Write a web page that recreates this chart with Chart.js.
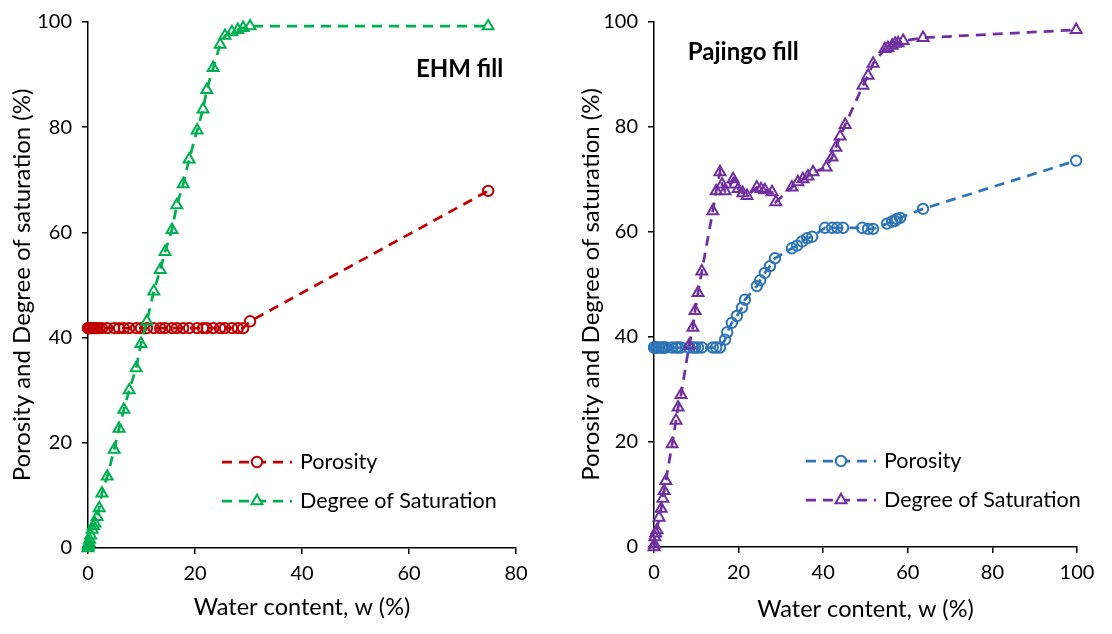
<!DOCTYPE html>
<html>
<head>
<meta charset="utf-8">
<title>Porosity and degree of saturation</title>
<script src="https://cdn.jsdelivr.net/npm/chart.js@4/dist/chart.umd.min.js"></script>
<style>
  html, body { margin: 0; padding: 0; background: #fff; }
  #wrap { position: relative; width: 1112px; height: 634px; }
  canvas { position: absolute; top: 0; }
</style>
</head>
<body>
<div id="wrap">
  <canvas id="graficaEhm" width="556" height="634" style="left:0"></canvas>
  <canvas id="graficaPajingo" width="556" height="634" style="left:556px"></canvas>
</div>
<script>
// EHM fill: contenido de agua, porosidad y grado de saturacion (%)
const ehmW = [0, 0.05, 0.1, 0.2, 0.3, 0.5, 0.8, 1.0, 1.3, 1.7, 2.1, 2.6, 3.6, 4.9, 5.8, 6.7, 7.7, 9.0, 9.9,
  11.0, 12.3, 13.5, 14.4, 15.7, 16.6, 17.8, 18.9, 20.4, 21.5, 22.2, 23.4, 24.7, 25.6, 26.9, 28.0, 29.0, 30.3, 74.8];
const ehmPorosity = [41.8, 41.8, 41.8, 41.8, 41.8, 41.8, 41.8, 41.8, 41.8, 41.8, 41.8, 41.8, 41.8, 41.8, 41.8,
  41.8, 41.8, 41.8, 41.8, 41.8, 41.8, 41.8, 41.8, 41.8, 41.8, 41.8, 41.8, 41.8, 41.8, 41.8, 41.8, 41.8, 41.8,
  41.8, 41.8, 41.8, 43.1, 67.9];
const ehmSaturation = [0, 0.3, 0.6, 1.0, 1.6, 2.4, 3.5, 4.2, 4.7, 5.9, 7.6, 10.4, 13.6, 18.7, 22.7, 26.3, 30.0,
  34.2, 38.8, 43.1, 48.8, 52.9, 56.3, 60.5, 65.2, 69.2, 73.9, 79.4, 83.4, 87.1, 91.3, 95.7, 97.4, 98.1, 98.5,
  98.9, 99.2, 99.2];

// Pajingo fill
const pajSatW = [0, 0.1, 0.2, 0.4, 0.7, 1.2, 1.7, 2.1, 2.4, 2.8, 4.3, 5.2, 5.7, 6.4, 8.3, 9.2, 9.7, 10.4, 11.3,
  13.9, 14.7, 15.6, 16.1, 16.8, 18.7, 19.1, 19.9, 21.0, 22.0, 24.3, 25.3, 26.2, 27.9, 28.8, 32.6, 34.0, 35.2,
  36.4, 37.6, 40.7, 42.1, 43.0, 44.0, 45.2, 49.4, 50.6, 51.8, 54.6, 55.3, 56.3, 57.0, 57.7, 58.9, 63.6, 99.8];
const pajSaturation = [0, 0.5, 1.9, 2.6, 3.2, 5.6, 7.3, 9.2, 10.7, 12.6, 19.6, 24.1, 26.6, 29.0, 38.4, 41.8,
  45.0, 48.4, 52.5, 64.0, 67.8, 71.4, 69.1, 67.8, 70.1, 69.1, 68.2, 67.4, 66.9, 68.5, 68.2, 68.0, 67.6, 65.7,
  68.5, 69.5, 70.1, 70.6, 71.4, 72.3, 74.2, 76.1, 78.2, 80.4, 87.9, 89.8, 92.1, 94.9, 95.1, 95.5, 95.9, 96.0,
  96.4, 97.0, 98.5];
const pajPorW = [0, 0.1, 0.2, 0.4, 0.7, 1.2, 1.7, 2.1, 2.4, 2.8, 4.3, 5.2, 5.7, 6.4, 8.3, 9.2, 9.7, 10.4, 11.3,
  13.9, 14.7, 15.6, 16.8, 17.3, 18.4, 19.6, 20.8, 21.5, 24.3, 25.1, 26.2, 27.4, 28.6, 32.6, 33.8, 35.0, 36.2,
  37.4, 40.4, 42.1, 43.3, 44.7, 49.2, 50.6, 51.8, 55.1, 56.3, 57.0, 57.4, 58.2, 63.6, 99.8];
const pajPorosity = [38.0, 38.0, 38.0, 38.0, 38.0, 38.0, 38.0, 38.0, 38.0, 38.0, 38.0, 38.0, 38.0, 38.0, 38.0,
  38.0, 38.0, 38.0, 38.0, 38.0, 38.0, 38.0, 39.5, 40.9, 42.7, 44.0, 45.6, 47.1, 49.7, 50.8, 52.2, 53.5, 55.0,
  56.9, 57.4, 58.2, 58.8, 59.1, 60.8, 60.8, 60.8, 60.8, 60.8, 60.6, 60.6, 61.6, 62.0, 62.1, 62.5, 62.7, 64.4,
  73.6];

const yTicks = [0, 20, 40, 60, 80, 100];
const ehmXMax = 80;
const pajXMax = 100;
const seriesNames = ['Porosity', 'Degree of Saturation'];

Chart.defaults.font.family = 'Lato';
Chart.defaults.color = '#000';

function puntos(xs, ys) {
  return xs.map((x, i) => ({ x: x, y: ys[i] }));
}

function serie(label, xs, ys, color, estilo, radio, orden) {
  return {
    label: label,
    data: puntos(xs, ys),
    showLine: true,
    borderColor: color,
    backgroundColor: 'rgba(0,0,0,0)',
    borderWidth: 2.75,
    borderDash: [10, 7],
    pointStyle: estilo,
    pointRadius: radio,
    pointBorderWidth: 2,
    pointBorderColor: color,
    pointBackgroundColor: 'rgba(0,0,0,0)',
    clip: false,
    order: orden
  };
}

// marcador simple (circulo o triangulo) para la leyenda
function marcador(ctx, estilo, x, y, r) {
  ctx.beginPath();
  if (estilo === 'triangle') {
    for (let k = 0; k < 3; k++) {
      const a = k * 2 * Math.PI / 3;
      const px = x + Math.sin(a) * r, py = y - Math.cos(a) * r;
      if (k === 0) ctx.moveTo(px, py); else ctx.lineTo(px, py);
    }
    ctx.closePath();
  } else {
    ctx.arc(x, y, r, 0, Math.PI * 2);
  }
  ctx.fill();
  ctx.stroke();
}

// rotulo del relleno y leyenda dentro del area de la grafica
const notasPlugin = {
  id: 'notas',
  afterDatasetsDraw(chart, args, opts) {
    const ctx = chart.ctx;
    const area = chart.chartArea;
    ctx.save();
    ctx.font = 'bold 24px Lato';
    ctx.fillStyle = '#000';
    ctx.textAlign = opts.titleAlign;
    ctx.textBaseline = 'middle';
    ctx.fillText(opts.title, chart.scales.x.getPixelForValue(opts.titleAt[0]),
      chart.scales.y.getPixelForValue(opts.titleAt[1]));

    chart.data.datasets.forEach((ds, i) => {
      const y = area.top + opts.legendTop + i * opts.legendGap;
      const x0 = area.left + opts.legendLeft;
      ctx.strokeStyle = ds.borderColor;
      ctx.lineWidth = ds.borderWidth;
      ctx.setLineDash(ds.borderDash);
      ctx.beginPath();
      ctx.moveTo(x0, y);
      ctx.lineTo(x0 + 70, y);
      ctx.stroke();
      ctx.setLineDash([]);
      ctx.lineWidth = ds.pointBorderWidth;
      ctx.fillStyle = '#fff';
      marcador(ctx, ds.pointStyle, x0 + 35, y, ds.pointRadius);
      ctx.fillStyle = '#000';
      ctx.font = '21.5px Lato';
      ctx.textAlign = 'left';
      ctx.fillText(ds.label, x0 + 78, y);
    });
    ctx.restore();
  }
};

function ejes(xMax, yWidth, xHeight, yTitlePad, xTitlePad) {
  const rejilla = { display: true, drawOnChartArea: false, drawTicks: true, tickLength: 6, color: '#000', lineWidth: 1.5 };
  const borde = { display: true, color: '#000', width: 1.5 };
  return {
    x: {
      type: 'linear', min: 0, max: xMax,
      ticks: { stepSize: 20, padding: 8, font: { size: 20 } },
      grid: rejilla, border: borde,
      title: { display: true, text: 'Water content, w (%)', font: { size: 23.5 }, padding: { top: 0, bottom: xTitlePad } },
      afterFit: s => { s.height = xHeight; }
    },
    y: {
      type: 'linear', min: yTicks[0], max: yTicks[yTicks.length - 1],
      afterBuildTicks: s => { s.ticks = yTicks.map(v => ({ value: v })); },
      ticks: { padding: 10, font: { size: 20 } },
      grid: rejilla, border: borde,
      title: { display: true, text: 'Porosity and Degree of saturation (%)', font: { size: 24 }, padding: { top: yTitlePad, bottom: 0 } },
      afterFit: s => { s.width = yWidth; }
    }
  };
}

new Chart(document.getElementById('graficaEhm'), {
  type: 'scatter',
  data: {
    datasets: [
      serie(seriesNames[0], ehmW, ehmPorosity, '#C00000', 'circle', 5.2, 2),
      serie(seriesNames[1], ehmW, ehmSaturation, '#00B050', 'triangle', 6.3, 1)
    ]
  },
  options: {
    responsive: false,
    animation: false,
    devicePixelRatio: 1,
    layout: { padding: { top: 19, right: 40, left: 0, bottom: 0 } },
    scales: ejes(ehmXMax, 88, 86, 8, 12),
    plugins: {
      legend: { display: false },
      tooltip: { enabled: false },
      notas: { title: 'EHM fill', titleAlign: 'right', titleAt: [77.6, 91.1], legendLeft: 134, legendTop: 440, legendGap: 39 }
    }
  },
  plugins: [notasPlugin]
});

new Chart(document.getElementById('graficaPajingo'), {
  type: 'scatter',
  data: {
    datasets: [
      serie(seriesNames[0], pajPorW, pajPorosity, '#2E75B6', 'circle', 5.2, 2),
      serie(seriesNames[1], pajSatW, pajSaturation, '#7030A0', 'triangle', 6.3, 1)
    ]
  },
  options: {
    responsive: false,
    animation: false,
    devicePixelRatio: 1,
    layout: { padding: { top: 16, right: 35, left: 0, bottom: 0 } },
    scales: ejes(pajXMax, 98, 87, 21, 10),
    plugins: {
      legend: { display: false },
      tooltip: { enabled: false },
      notas: { title: 'Pajingo fill', titleAlign: 'left', titleAt: [8.0, 94.3], legendLeft: 152, legendTop: 439, legendGap: 39 }
    }
  },
  plugins: [notasPlugin]
});
</script>
</body>
</html>
